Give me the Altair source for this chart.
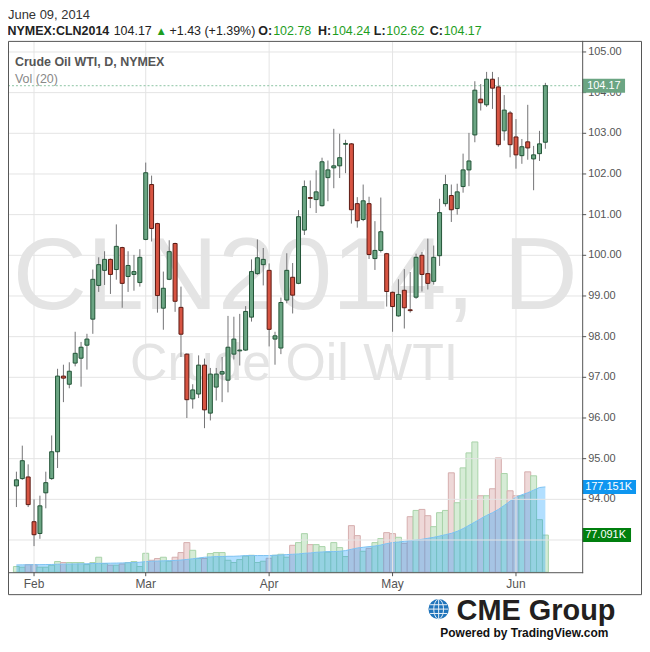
import altair as alt
import pandas as pd

# ---------------- data ----------------
opens = [94.33, 94.51, 94.55, 93.45, 93.16, 94.16, 94.51, 95.17, 97.03, 96.83,
         97.35, 97.47, 97.79, 98.43, 99.26, 99.63, 99.90, 99.65, 100.19, 99.48,
         99.53, 99.33, 100.39, 101.74, 100.78, 98.70, 99.41, 100.29, 98.72, 97.57,
         96.47, 96.59, 97.30, 96.12, 96.76, 97.08, 96.93, 97.57, 97.65, 97.67,
         98.48, 99.55, 99.77, 99.63, 97.94, 97.72, 98.90, 99.46, 99.31, 100.62,
         101.42, 101.37, 101.22, 101.91, 102.15, 102.20, 102.73, 102.74, 101.27, 100.88,
         101.27, 99.92, 100.12, 100.04, 99.09, 98.51, 99.14, 98.66, 98.97, 100.00,
         99.55, 99.36, 99.99, 101.27, 101.47, 101.15, 101.69, 102.10, 102.96, 103.84,
         103.70, 104.33, 104.14, 103.06, 103.50, 102.91, 102.45, 102.79, 102.37, 102.50,
         102.78]
highs = [94.68, 95.32, 94.86, 94.00, 94.09, 94.68, 95.57, 97.21, 97.31, 97.37,
         98.12, 97.87, 98.07, 99.65, 99.95, 100.10, 99.92, 100.76, 100.21, 100.10,
         100.01, 100.15, 102.28, 101.96, 100.80, 99.60, 100.37, 100.31, 99.23, 97.59,
         96.83, 97.54, 97.46, 97.23, 97.23, 97.50, 98.51, 98.49, 98.56, 98.75,
         99.90, 100.39, 100.18, 99.80, 98.12, 98.96, 100.05, 99.81, 101.11, 101.84,
         101.84, 102.09, 102.40, 102.33, 103.11, 102.99, 102.84, 102.76, 101.43, 101.74,
         101.44, 100.84, 101.42, 100.06, 99.11, 99.41, 99.66, 99.59, 100.04, 100.08,
         100.41, 100.24, 101.39, 101.98, 101.74, 101.76, 102.50, 103.01, 104.28, 104.21,
         104.51, 104.51, 104.38, 103.94, 103.55, 103.35, 102.86, 103.70, 102.69, 103.06,
         104.24]
lows = [93.81, 94.48, 93.81, 92.85, 93.03, 93.78, 94.48, 94.77, 96.39, 96.73,
        97.27, 96.77, 97.19, 98.07, 99.10, 99.27, 99.05, 99.40, 98.71, 99.10,
        99.13, 99.23, 100.37, 100.34, 98.59, 98.17, 99.39, 98.61, 97.50, 96.00,
        96.23, 96.49, 95.75, 95.94, 96.43, 96.39, 96.63, 97.44, 97.29, 97.65,
        98.37, 99.52, 99.26, 97.76, 97.31, 97.57, 98.82, 98.57, 99.29, 100.50,
        101.16, 101.04, 101.20, 101.33, 101.65, 101.90, 102.02, 100.78, 100.68, 100.84,
        99.91, 99.64, 100.07, 98.74, 98.12, 98.49, 98.20, 98.59, 98.93, 99.11,
        99.16, 99.28, 99.74, 101.20, 100.82, 101.00, 101.54, 101.70, 102.78, 103.56,
        103.65, 103.60, 102.67, 102.82, 102.41, 102.13, 102.25, 102.35, 101.60, 102.32,
        102.62]
closes = [94.48, 94.95, 93.87, 93.13, 93.84, 94.41, 95.17, 97.03, 96.98, 97.15,
          97.59, 97.74, 97.94, 99.41, 99.77, 99.90, 99.53, 100.22, 99.31, 99.75,
          99.60, 99.95, 102.03, 100.66, 99.01, 99.19, 100.09, 98.87, 98.06, 96.45,
          96.69, 97.30, 96.20, 97.08, 97.08, 97.14, 97.74, 97.94, 97.67, 98.62,
          99.60, 99.94, 99.90, 98.18, 98.02, 98.84, 99.63, 99.02, 100.95, 101.69,
          101.40, 101.56, 102.30, 102.10, 102.20, 102.40, 102.75, 101.12, 100.85, 101.34,
          100.02, 100.12, 100.58, 99.11, 98.74, 99.04, 98.71, 98.64, 99.95, 99.53,
          99.31, 99.95, 101.05, 101.74, 101.12, 101.56, 102.10, 102.32, 104.06, 103.75,
          104.33, 104.11, 102.72, 103.57, 102.72, 102.47, 102.67, 102.64, 102.47, 102.74,
          104.17]
volume_k = [11.8, 10.4, 15.9, 15.9, 10.4, 10.4, 14.5, 22.1, 20.1, 20.1,
            20.1, 20.1, 15.9, 20.1, 31.1, 18.0, 14.5, 14.5, 17.2, 20.1,
            22.1, 11.8, 39.3, 24.8, 28.4, 31.1, 22.8, 31.1, 40.8, 61.5,
            45.5, 28.4, 28.4, 38.7, 40.8, 40.8, 24.8, 20.1, 26.3, 33.7,
            35.2, 20.1, 22.8, 29.0, 35.2, 37.3, 31.1, 55.9, 61.5, 80.1,
            57.3, 57.3, 53.2, 42.0, 61.5, 51.1, 32.5, 96.7, 76.0, 43.5,
            49.7, 61.5, 69.8, 82.2, 80.1, 72.5, 60.0, 115.3, 128.3, 130.4,
            117.4, 94.6, 123.6, 128.3, 206.4, 144.3, 216.7, 247.8, 270.5, 158.8,
            158.8, 173.3, 237.4, 204.9, 169.1, 158.8, 158.8, 208.4, 200.2, 109.1,
            77.091]
vol_ma_k = [15.1, 15.3, 15.5, 15.7, 15.7, 15.9, 16.1, 16.6, 16.8, 17.0,
            17.2, 17.4, 17.6, 18.0, 18.4, 18.6, 18.8, 19.0, 19.3, 19.7,
            20.1, 20.7, 22.1, 22.8, 23.2, 23.6, 24.0, 24.4, 25.3, 26.5,
            27.9, 29.6, 31.1, 31.7, 32.5, 32.5, 33.1, 33.1, 33.7, 34.6,
            34.6, 34.6, 34.6, 34.6, 35.2, 35.8, 36.6, 37.3, 37.9, 39.3,
            40.0, 41.4, 42.0, 42.8, 42.8, 43.5, 44.9, 47.6, 50.3, 51.8,
            53.2, 54.4, 56.5, 59.4, 61.5, 62.7, 64.2, 65.6, 66.9, 68.3,
            70.4, 72.5, 75.1, 78.0, 80.7, 84.9, 90.5, 97.3, 104.1, 111.2,
            118.0, 123.6, 130.4, 138.7, 147.6, 155.9, 160.8, 165.0, 170.4, 175.9,
            177.151]

month_bar = [3, 22, 43, 64, 85]
month_name = ["Feb", "Mar", "Apr", "May", "Jun"]
grid_prices = [93, 94, 95, 96, 97, 98, 99, 100, 101, 102, 103, 104, 105]
label_prices = [94, 95, 96, 97, 98, 99, 100, 101, 102, 103, 104, 105]
last_price = 104.17
last_vol = 77.091
last_vol_ma = 177.151

df = pd.DataFrame({
    "i": list(range(len(opens))),
    "o": opens, "h": highs, "l": lows, "c": closes,
    "v": volume_k, "ma": vol_ma_k,
})
months = pd.DataFrame({"m": month_bar, "name": month_name})
grid_df = pd.DataFrame({"p": grid_prices})
labels_df = pd.DataFrame({"p": label_prices})

# ---------------- styling ----------------
W, H = 576, 532
FONT = "Liberation Sans"
GREEN, GREEN_EDGE = "#6ba583", "#225437"
RED, RED_EDGE = "#d75442", "#5b1a13"
AXIS = "#555555"
GRID = "#e4e4e4"

x_scale = alt.Scale(domain=[-0.5833333, 95.4166667], nice=False, zero=False)
p_scale = alt.Scale(domain=[92.208, 105.2475], nice=False, zero=False)
v_scale = alt.Scale(domain=[0, 1101.24], nice=False, zero=False)

UP = "datum.c >= datum.o"
one = alt.Data(values=[{"k": 0}])


def X(field):
    return alt.X(field, scale=x_scale, axis=None)


def PY(field):
    return alt.Y(field, scale=p_scale, axis=None)


def VY(field):
    return alt.Y(field, scale=v_scale, axis=None)


def text_layer(s, x, y, size, color, weight="normal", align="left",
               baseline="middle"):
    return alt.Chart(alt.Data(values=[{"t": s}])).mark_text(
        font=FONT, fontSize=size, color=color, fontWeight=weight, align=align,
        baseline=baseline).encode(x=alt.value(x), y=alt.value(y), text="t:N")


# ---------------- watermark ----------------
wm1 = text_layer("CLN2014, D", 288, 268, 103, "#e4e4e4", align="center",
                 baseline="alphabetic")
wm2 = text_layer("Crude Oil WTI", 287, 339, 52, "#e4e4e4", align="center",
                 baseline="alphabetic")

# ---------------- volume pane ----------------
vbase = alt.Chart(df)
vol_bars = vbase.mark_bar(size=6, strokeWidth=1).encode(
    x=X("i:Q"), y=VY("v:Q"),
    fill=alt.condition(UP, alt.value("#d6ecd6"), alt.value("#eed8d8")),
    stroke=alt.condition(UP, alt.value("#a9d3a9"), alt.value("#d6aeae")),
)
vol_area = vbase.mark_area(color="#0094ff", opacity=0.3).encode(
    x=X("i:Q"), y=VY("ma:Q"))
vol_line = vbase.mark_line(color="#7cc2f2", strokeWidth=1).encode(
    x=X("i:Q"), y=VY("ma:Q"))


def value_box(val, txt, color, x2):
    d = alt.Data(values=[{"v": val, "t": txt}])
    box = alt.Chart(d).mark_rect(color=color, yOffset=-7, y2Offset=7).encode(
        y=VY("v:Q"), y2="v:Q", x=alt.value(576), x2=alt.value(x2))
    lab = alt.Chart(d).mark_text(font=FONT, fontSize=11, color="white",
                                 align="left", baseline="middle").encode(
        y=VY("v:Q"), x=alt.value(579), text="t:N")
    return [box, lab]


vol_group = alt.layer(vol_bars, vol_area, vol_line)
vol_labels = alt.layer(
    *value_box(last_vol_ma, f"{last_vol_ma:.3f}K", "#0e96f0", 630),
    *value_box(last_vol, f"{last_vol:.3f}K", "#007f0e", 625),
)

# ---------------- grid and axes (drawn through the scales) ----------------
grid_h = alt.Chart(grid_df).mark_rule(color=GRID, strokeWidth=1).encode(
    y=PY("p:Q"), x=alt.value(0), x2=alt.value(W))
grid_v = alt.Chart(months).mark_rule(color=GRID, strokeWidth=1).encode(
    x=X("m:Q"), y=alt.value(0), y2=alt.value(H))
y_ticks = alt.Chart(labels_df).mark_rule(color=AXIS, strokeWidth=1).encode(
    y=PY("p:Q"), x=alt.value(W), x2=alt.value(W + 4))
y_labels = alt.Chart(labels_df).mark_text(
    font=FONT, fontSize=11, color=AXIS, align="left", baseline="middle").encode(
    y=PY("p:Q"), x=alt.value(W + 6), text=alt.Text("p:Q", format=".2f"))
x_ticks = alt.Chart(months).mark_rule(color=AXIS, strokeWidth=1).encode(
    x=X("m:Q"), y=alt.value(H), y2=alt.value(H + 4))
x_labels = alt.Chart(months).mark_text(
    font=FONT, fontSize=12, color=AXIS, align="center", baseline="middle").encode(
    x=X("m:Q"), y=alt.value(H + 12), text="name:N")
axis_lines = [
    alt.Chart(one).mark_rule(color=AXIS, strokeWidth=1).encode(
        x=alt.value(W + 0.5), y=alt.value(-1), y2=alt.value(H + 1)),
    alt.Chart(one).mark_rule(color=AXIS, strokeWidth=1).encode(
        y=alt.value(H + 0.5), x=alt.value(0), x2=alt.value(W + 1)),
]
grid_group = alt.layer(grid_h, grid_v, y_ticks, y_labels, x_ticks, x_labels)

# ---------------- price pane ----------------
pbase = alt.Chart(df)
wicks = pbase.mark_rule(color="#737375", strokeWidth=1).encode(
    x=X("i:Q"), y=PY("l:Q"), y2="h:Q")
bodies = pbase.mark_bar(size=4, strokeWidth=1).encode(
    x=X("i:Q"), y=PY("o:Q"), y2="c:Q",
    fill=alt.condition(UP, alt.value(GREEN), alt.value(RED)),
    stroke=alt.condition(UP, alt.value(GREEN_EDGE), alt.value(RED_EDGE)),
)
lp = alt.Data(values=[{"p": last_price}])
last_line = alt.Chart(lp).mark_rule(color="#8cc4a3", strokeDash=[2, 2],
                                    strokeWidth=1).encode(
    y=PY("p:Q"), x=alt.value(0), x2=alt.value(W))
price_box = alt.Chart(lp).mark_rect(color=GREEN, yOffset=-7, y2Offset=7).encode(
    y=PY("p:Q"), y2="p:Q", x=alt.value(576), x2=alt.value(619))
price_txt = alt.Chart(lp).mark_text(font=FONT, fontSize=11, color="white",
                                    align="left", baseline="middle").encode(
    y=PY("p:Q"), x=alt.value(581), text=alt.Text("p:Q", format=".2f"))

price_group = alt.layer(last_line, wicks, bodies, price_box, price_txt)

# ---------------- frame, header, legend, logo ----------------
frame = alt.Chart(one).mark_rect(fillOpacity=0, stroke=AXIS, strokeWidth=1).encode(
    x=alt.value(0.5), x2=alt.value(635.5), y=alt.value(-0.5), y2=alt.value(554.5))

GR = "#1e9e1e"
DK = "#222222"
B1 = -23
B2 = -6.5
header = [
    text_layer("June 09, 2014", 0, B1, 13, "#333333", baseline="alphabetic"),
    text_layer("NYMEX:CLN2014", -0.5, B2, 12.5, DK, "bold", baseline="alphabetic"),
    text_layer("104.17", 106, B2, 12.5, DK, baseline="alphabetic"),
    text_layer("\u25B2", 148, B2, 11.5, GR, baseline="alphabetic"),
    text_layer("+1.43 (+1.39%)", 162, B2, 12.5, DK, baseline="alphabetic"),
    text_layer("O:", 251, B2, 12.5, DK, "bold", baseline="alphabetic"),
    text_layer("102.78", 266, B2, 12.5, GR, baseline="alphabetic"),
    text_layer("H:", 311, B2, 12.5, DK, "bold", baseline="alphabetic"),
    text_layer("104.24", 325, B2, 12.5, GR, baseline="alphabetic"),
    text_layer("L:", 367, B2, 12.5, DK, "bold", baseline="alphabetic"),
    text_layer("102.62", 379.5, B2, 12.5, GR, baseline="alphabetic"),
    text_layer("C:", 423, B2, 12.5, DK, "bold", baseline="alphabetic"),
    text_layer("104.17", 437, B2, 12.5, GR, baseline="alphabetic"),
    text_layer("Crude Oil WTI, D, NYMEX", 7, 20, 12.5, "#555555", "bold"),
    text_layer("Vol (20)", 7, 37, 12.5, "#888888"),
]

globe = alt.Chart(one).mark_point(filled=True, size=420, color="#1f74bb",
                                  opacity=1).encode(x=alt.value(432), y=alt.value(569))
globe_grid = alt.Chart(one).mark_point(
    shape="M -1 0 L 1 0 M 0 -1 L 0 1 M -0.88 -0.45 L 0.88 -0.45 M -0.88 0.45 L 0.88 0.45 "
          "M 0 -1 A 0.5 1 0 0 0 0 1 A 0.5 1 0 0 0 0 -1",
    size=380, filled=False, stroke="white", strokeWidth=1, opacity=0.9).encode(
    x=alt.value(432), y=alt.value(569))
logo = [
    globe, globe_grid,
    text_layer("CME Group", 450, 580, 29, "#231f20", "bold", baseline="alphabetic"),
    text_layer("Powered by TradingView.com", 518, 597, 12, "#111111", "bold",
               align="center", baseline="alphabetic"),
]

chart = alt.layer(
    wm1, wm2, vol_group, grid_group, price_group, vol_labels,
    *axis_lines, frame, *header, *logo
).resolve_scale(y="independent").properties(
    width=W, height=H,
    padding={"left": 0, "top": 33, "right": 60, "bottom": 67},
    autosize=alt.AutoSizeParams(type="none"),
    background="white",
).configure_view(stroke=None)

chart.save("out.html", embed_options={"renderer": "svg", "actions": False})
